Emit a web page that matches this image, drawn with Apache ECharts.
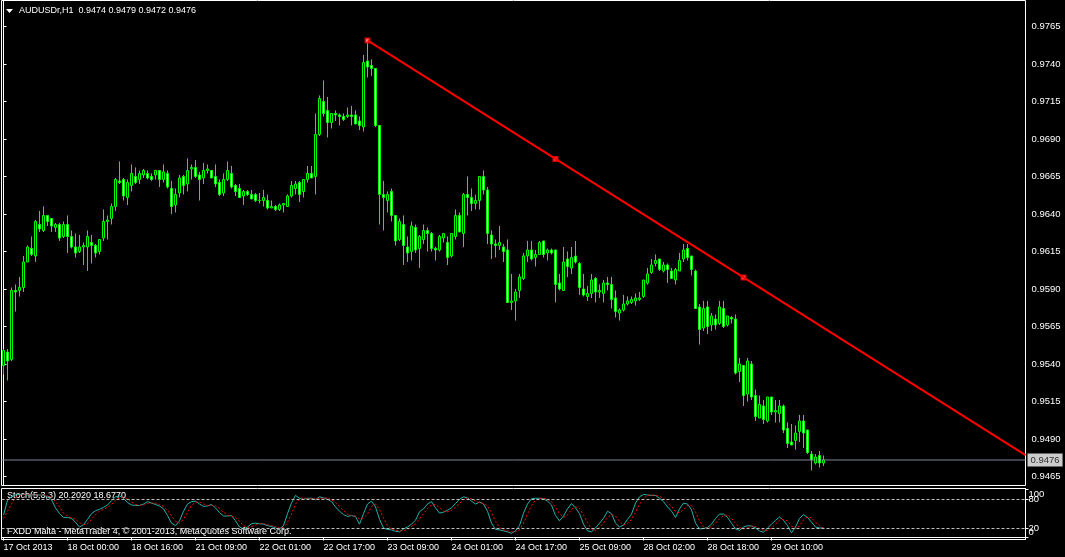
<!DOCTYPE html>
<html><head><meta charset="utf-8">
<script src="https://cdn.jsdelivr.net/npm/echarts@6/dist/echarts.min.js"></script>
<style>html,body{margin:0;padding:0;background:#000;}#c{width:1065px;height:557px;}</style>
</head><body><div id="c"></div>
<script>
// ---- data ----
const opens = [0.9539,0.9548,0.9543,0.9589,0.9589,0.9591,0.9608,0.9617,0.9612,0.9633,0.9629,0.9639,0.9637,0.9631,0.9633,0.9625,0.9633,0.9625,0.9618,0.9615,0.9618,0.9618,0.9621,0.9619,0.9615,0.9624,0.9635,0.9637,0.9645,0.9662,0.9663,0.9651,0.9659,0.9665,0.9663,0.9666,0.9667,0.9665,0.9666,0.9669,0.9663,0.9667,0.9657,0.9646,0.9654,0.9665,0.9660,0.9670,0.9671,0.9666,0.9664,0.9669,0.9669,0.9665,0.9661,0.9654,0.9663,0.9667,0.9659,0.9657,0.9652,0.9655,0.9653,0.9653,0.9649,0.9649,0.9649,0.9644,0.9645,0.9643,0.9646,0.9645,0.9652,0.9657,0.9661,0.9655,0.9663,0.9667,0.9665,0.9693,0.9715,0.9709,0.9701,0.9707,0.9706,0.9705,0.9705,0.9706,0.9706,0.9702,0.9698,0.9742,0.9739,0.9737,0.9699,0.9653,0.9649,0.9655,0.9639,0.9623,0.9633,0.9618,0.9615,0.9631,0.9617,0.9623,0.9629,0.9627,0.9617,0.9616,0.9624,0.9621,0.9612,0.9625,0.9639,0.9627,0.9653,0.9651,0.9647,0.9649,0.9665,0.9656,0.9626,0.9620,0.9619,0.9618,0.9616,0.9581,0.9582,0.9589,0.9597,0.9612,0.9616,0.9611,0.9613,0.9622,0.9614,0.9616,0.9616,0.9594,0.9589,0.9610,0.9604,0.9612,0.9607,0.9590,0.9585,0.9587,0.9597,0.9588,0.9587,0.9594,0.9593,0.9584,0.9574,0.9576,0.9580,0.9581,0.9582,0.9583,0.9585,0.9594,0.9601,0.9607,0.9610,0.9602,0.9606,0.9602,0.9596,0.9602,0.9610,0.9617,0.9612,0.9602,0.9578,0.9564,0.9578,0.9566,0.9570,0.9567,0.9577,0.9566,0.9571,0.9570,0.9535,0.9539,0.9520,0.9540,0.9519,0.9504,0.9512,0.9502,0.9518,0.9508,0.9507,0.9512,0.9497,0.9488,0.9489,0.9495,0.9502,0.9496,0.9480,0.9474,0.9479,0.9474];
const highs = [0.9550,0.9550,0.9591,0.9593,0.9598,0.9612,0.9619,0.9625,0.9636,0.9642,0.9645,0.9639,0.9637,0.9634,0.9634,0.9635,0.9639,0.9629,0.9627,0.9626,0.9621,0.9629,0.9626,0.9620,0.9623,0.9643,0.9639,0.9647,0.9664,0.9675,0.9664,0.9663,0.9673,0.9671,0.9669,0.9670,0.9669,0.9667,0.9669,0.9669,0.9673,0.9669,0.9662,0.9657,0.9666,0.9666,0.9677,0.9673,0.9676,0.9668,0.9674,0.9673,0.9669,0.9673,0.9663,0.9667,0.9675,0.9672,0.9660,0.9660,0.9656,0.9656,0.9656,0.9654,0.9654,0.9656,0.9653,0.9649,0.9646,0.9647,0.9647,0.9653,0.9662,0.9662,0.9662,0.9663,0.9672,0.9672,0.9707,0.9719,0.9729,0.9718,0.9707,0.9709,0.9707,0.9707,0.9711,0.9712,0.9709,0.9705,0.9746,0.9756,0.9743,0.9737,0.9699,0.9662,0.9655,0.9657,0.9639,0.9637,0.9639,0.9625,0.9635,0.9633,0.9626,0.9633,0.9631,0.9628,0.9618,0.9626,0.9627,0.9625,0.9627,0.9643,0.9641,0.9654,0.9665,0.9657,0.9653,0.9665,0.9669,0.9658,0.9629,0.9623,0.9632,0.9620,0.9623,0.9600,0.9590,0.9600,0.9614,0.9622,0.9622,0.9616,0.9622,0.9622,0.9617,0.9617,0.9616,0.9600,0.9618,0.9615,0.9618,0.9622,0.9608,0.9600,0.9592,0.9600,0.9598,0.9593,0.9596,0.9598,0.9598,0.9589,0.9577,0.9586,0.9585,0.9585,0.9587,0.9588,0.9596,0.9604,0.9610,0.9613,0.9610,0.9608,0.9607,0.9604,0.9604,0.9614,0.9620,0.9620,0.9612,0.9603,0.9580,0.9582,0.9582,0.9574,0.9573,0.9582,0.9582,0.9572,0.9572,0.9573,0.9544,0.9539,0.9544,0.9542,0.9523,0.9519,0.9516,0.9518,0.9518,0.9516,0.9516,0.9513,0.9501,0.9500,0.9499,0.9506,0.9506,0.9496,0.9482,0.9480,0.9482,0.9479];
const lows = [0.9533,0.9529,0.9542,0.9575,0.9585,0.9588,0.9608,0.9612,0.9608,0.9628,0.9628,0.9632,0.9628,0.9628,0.9622,0.9624,0.9614,0.9617,0.9611,0.9614,0.9606,0.9602,0.9607,0.9611,0.9613,0.9622,0.9623,0.9633,0.9642,0.9660,0.9649,0.9646,0.9655,0.9660,0.9660,0.9664,0.9663,0.9662,0.9663,0.9658,0.9661,0.9657,0.9640,0.9641,0.9651,0.9653,0.9655,0.9663,0.9664,0.9649,0.9660,0.9667,0.9664,0.9658,0.9652,0.9652,0.9662,0.9657,0.9652,0.9651,0.9646,0.9652,0.9650,0.9648,0.9647,0.9645,0.9643,0.9644,0.9642,0.9642,0.9641,0.9645,0.9651,0.9653,0.9648,0.9651,0.9661,0.9664,0.9653,0.9692,0.9705,0.9691,0.9697,0.9702,0.9699,0.9702,0.9704,0.9699,0.9700,0.9696,0.9695,0.9731,0.9732,0.9698,0.9633,0.9629,0.9641,0.9635,0.9619,0.9622,0.9606,0.9608,0.9609,0.9614,0.9604,0.9620,0.9615,0.9615,0.9609,0.9615,0.9621,0.9606,0.9611,0.9623,0.9628,0.9618,0.9639,0.9642,0.9643,0.9643,0.9653,0.9620,0.9610,0.9611,0.9616,0.9608,0.9581,0.9576,0.9569,0.9584,0.9596,0.9608,0.9609,0.9605,0.9613,0.9611,0.9609,0.9613,0.9581,0.9589,0.9589,0.9598,0.9600,0.9607,0.9586,0.9585,0.9582,0.9584,0.9581,0.9584,0.9581,0.9589,0.9577,0.9571,0.9569,0.9575,0.9579,0.9580,0.9579,0.9582,0.9584,0.9593,0.9600,0.9605,0.9602,0.9601,0.9594,0.9597,0.9593,0.9602,0.9608,0.9609,0.9599,0.9577,0.9553,0.9562,0.9560,0.9562,0.9563,0.9566,0.9564,0.9565,0.9567,0.9533,0.9528,0.9512,0.9515,0.9516,0.9502,0.9504,0.9500,0.9501,0.9506,0.9501,0.9501,0.9494,0.9484,0.9486,0.9483,0.9488,0.9484,0.9480,0.9469,0.9473,0.9471,0.9472];
const closes = [0.9549,0.9542,0.9589,0.9588,0.9591,0.9608,0.9618,0.9613,0.9635,0.9630,0.9639,0.9635,0.9632,0.9633,0.9624,0.9633,0.9625,0.9618,0.9614,0.9618,0.9619,0.9625,0.9619,0.9614,0.9623,0.9635,0.9636,0.9645,0.9663,0.9661,0.9652,0.9661,0.9667,0.9661,0.9667,0.9669,0.9664,0.9663,0.9669,0.9663,0.9668,0.9658,0.9645,0.9653,0.9664,0.9659,0.9669,0.9671,0.9665,0.9663,0.9669,0.9670,0.9664,0.9660,0.9653,0.9663,0.9669,0.9658,0.9655,0.9651,0.9655,0.9653,0.9650,0.9649,0.9649,0.9651,0.9644,0.9645,0.9643,0.9646,0.9647,0.9652,0.9659,0.9660,0.9653,0.9663,0.9667,0.9664,0.9693,0.9717,0.9707,0.9701,0.9707,0.9706,0.9705,0.9703,0.9706,0.9705,0.9700,0.9699,0.9741,0.9738,0.9737,0.9699,0.9653,0.9651,0.9653,0.9639,0.9622,0.9635,0.9619,0.9614,0.9632,0.9616,0.9625,0.9629,0.9627,0.9617,0.9616,0.9625,0.9627,0.9611,0.9627,0.9639,0.9628,0.9653,0.9651,0.9647,0.9649,0.9665,0.9656,0.9627,0.9620,0.9619,0.9621,0.9615,0.9581,0.9582,0.9588,0.9598,0.9612,0.9616,0.9610,0.9613,0.9621,0.9613,0.9616,0.9614,0.9593,0.9590,0.9608,0.9605,0.9611,0.9608,0.9591,0.9586,0.9587,0.9596,0.9588,0.9589,0.9594,0.9593,0.9583,0.9575,0.9576,0.9580,0.9582,0.9583,0.9584,0.9584,0.9596,0.9600,0.9606,0.9609,0.9603,0.9606,0.9603,0.9597,0.9603,0.9609,0.9616,0.9611,0.9603,0.9577,0.9563,0.9577,0.9565,0.9572,0.9566,0.9578,0.9565,0.9572,0.9570,0.9534,0.9540,0.9519,0.9542,0.9518,0.9505,0.9513,0.9503,0.9518,0.9508,0.9509,0.9512,0.9496,0.9487,0.9486,0.9494,0.9502,0.9494,0.9481,0.9476,0.9478,0.9474,0.9476];
const stochK = [47,78,85,89,90,90,89,89,89,89,88,85,79,62,50,42,42,40,32,22,27,38,50,56,59,63,68,77,85,87,82,73,68,67,67,70,75,72,69,66,60,46,30,25,35,55,70,75,76,70,65,66,69,62,52,45,45,46,35,22,18,22,29,30,29,28,25,23,20,18,25,50,72,88,82,80,82,82,79,85,83,80,75,64,55,48,44,46,44,28,50,70,76,64,38,20,17,16,13,12,18,22,28,36,54,60,70,75,62,51,53,57,62,71,80,85,83,76,70,74,70,55,30,17,16,14,12,9,14,25,51,70,81,82,82,81,76,68,46,35,45,60,71,62,50,28,14,12,20,30,40,55,50,30,22,26,38,49,72,85,90,89,88,88,82,75,64,55,42,60,72,70,58,30,18,19,21,28,40,49,49,42,30,18,15,22,25,24,20,14,11,20,28,36,43,36,25,10,22,40,48,42,32,22,20,20.2020];
const stochD = [40,55,70,84,88,90,90,89,89,89,89,87,84,75,64,51,45,41,38,31,27,29,38,48,55,59,63,69,77,83,85,81,74,69,67,68,71,72,72,69,65,57,45,34,30,38,53,67,74,74,70,67,67,66,61,53,47,45,42,34,25,21,23,26,29,29,27,25,23,20,21,31,49,70,81,83,81,81,81,82,82,83,79,73,65,56,49,46,45,39,41,49,65,70,59,41,25,18,15,14,14,17,23,29,39,50,61,68,69,63,55,54,57,63,71,79,83,81,76,73,71,66,52,34,21,16,14,12,12,16,30,49,67,78,82,82,80,75,63,50,42,47,59,64,61,47,31,18,15,21,30,42,48,45,34,26,29,38,53,69,82,88,89,88,86,82,74,65,54,52,58,67,67,53,35,22,19,23,30,39,46,47,40,30,21,18,21,24,23,19,15,15,20,28,36,38,35,24,19,24,37,43,41,32,25,18.6770];
const xTickLabels = ['17 Oct 2013','18 Oct 00:00','18 Oct 16:00','21 Oct 09:00','22 Oct 01:00','22 Oct 17:00','23 Oct 09:00','24 Oct 01:00','24 Oct 17:00','25 Oct 09:00','28 Oct 02:00','28 Oct 18:00','29 Oct 10:00'];
const priceTicks = [0.9465,0.9490,0.9515,0.9540,0.9565,0.9590,0.9615,0.9640,0.9665,0.9690,0.9715,0.9740,0.9765];
const stochTicks = [0,20,80,100];
const stochLevels = [20,80];
const stochMaxLabel = [100];
const stochMinLabel = [0];
const trendAnchors = [[91,0.97557],[185,0.95977]];
const lastPrice = 0.9476;
const headerText = 'AUDUSDr,H1  0.9474 0.9479 0.9472 0.9476';
const stochTitle = 'Stoch(5,3,3) 20.2020 18.6770';
const copyright = 'FXDD Malta - MetaTrader 4, \u00a9 2001-2013, MetaQuotes Software Corp.';

// ---- layout ----
const totalSlots = 256;      // bar slots incl. empty space to the right
const labelStep = 16;
const FONT = '"Liberation Sans", Arial, sans-serif';
const cats = Array.from({length: totalSlots}, (_, i) => String(i));
const candles = opens.map((o, i) => [o, closes[i], lows[i], highs[i]]);
const xStart = -0.5, xEnd = totalSlots - 0.5;
const slope = (trendAnchors[1][1] - trendAnchors[0][1]) / (trendAnchors[1][0] - trendAnchors[0][0]);
const trendData = [trendAnchors[0], [xEnd, trendAnchors[0][1] + slope * (xEnd - trendAnchors[0][0])]];
const midX = (trendAnchors[0][0] + trendAnchors[1][0]) / 2;
const markerData = [trendAnchors[0], [midX, (trendAnchors[0][1] + trendAnchors[1][1]) / 2], trendAnchors[1]];
const isLabel = (idx) => idx % labelStep === 0 && idx / labelStep < xTickLabels.length;
const stochMin = -4, stochMax = 102.4;

function stochAxis(values, vAlign, withLine) {
  return {type: 'value', gridIndex: 1, position: 'right', min: stochMin, max: stochMax,
    axisLine: {show: withLine, lineStyle: {color: '#fff'}},
    axisTick: {show: withLine, customValues: stochTicks, length: 3, lineStyle: {color: '#fff'}},
    axisLabel: {show: true, customValues: values, color: '#fff', fontSize: 9.5, fontFamily: FONT, margin: 3,
      verticalAlign: vAlign, formatter: (v) => String(Math.round(v))},
    splitLine: {show: false}};
}

const chart = echarts.init(document.getElementById('c'), null, {renderer: 'canvas'});
chart.setOption({
  backgroundColor: '#000',
  animation: false,
  grid: [
    {left: 1.5, right: 39.5, top: 0.5, height: 485, show: true, borderColor: '#fff', borderWidth: 1, backgroundColor: 'transparent'},
    {left: 1.5, right: 39.5, top: 488.5, height: 51, show: true, borderColor: '#fff', borderWidth: 1, backgroundColor: 'transparent'}
  ],
  xAxis: [
    {type: 'category', gridIndex: 0, data: cats, boundaryGap: true, show: false},
    {type: 'category', gridIndex: 1, data: cats, boundaryGap: true,
      axisLine: {show: true, lineStyle: {color: '#fff'}},
      axisTick: {show: true, alignWithLabel: true, interval: isLabel, length: 3, lineStyle: {color: '#fff'}},
      axisLabel: {show: true, interval: isLabel, align: 'left', color: '#fff', fontSize: 9, fontFamily: FONT, margin: 4,
        formatter: (v) => xTickLabels[Number(v) / labelStep] || ''},
      splitLine: {show: false}},
    {type: 'value', gridIndex: 0, min: xStart, max: xEnd, show: false}
  ],
  yAxis: [
    {type: 'value', gridIndex: 0, position: 'right', min: 0.9459, max: 0.97823,
      axisLine: {show: true, lineStyle: {color: '#fff'}},
      axisTick: {show: true, customValues: priceTicks, length: 3, lineStyle: {color: '#fff'}},
      axisLabel: {show: true, customValues: priceTicks, color: '#fff', fontSize: 9.5, fontFamily: FONT, margin: 6,
        formatter: (v) => v.toFixed(4)},
      splitLine: {show: false}},
    stochAxis(stochLevels, 'middle', true),
    stochAxis(stochMaxLabel, 'top', false),
    stochAxis(stochMinLabel, 'bottom', false)
  ],
  series: [
    {type: 'candlestick', xAxisIndex: 0, yAxisIndex: 0, data: candles, barWidth: 2,
      itemStyle: {color: '#000', color0: '#fff', borderColor: '#00ff00', borderColor0: '#00ff00', borderColorDoji: '#00ff00', borderWidth: 1},
      silent: true},
    {type: 'line', xAxisIndex: 2, yAxisIndex: 0, data: [[xStart, lastPrice], [xEnd, lastPrice]], symbol: 'none', silent: true,
      lineStyle: {color: '#778899', width: 1}},
    {type: 'scatter', xAxisIndex: 2, yAxisIndex: 0, data: [[xEnd, lastPrice]], symbolSize: 0, silent: true, clip: false,
      label: {show: true, position: 'right', distance: 2, formatter: lastPrice.toFixed(4), backgroundColor: '#fff', color: '#000',
        fontSize: 9.5, fontFamily: FONT, padding: [2, 3, 1, 3]}},
    {type: 'line', xAxisIndex: 2, yAxisIndex: 0, data: trendData, symbol: 'none', silent: true,
      lineStyle: {color: '#ff0000', width: 2}},
    {type: 'scatter', xAxisIndex: 2, yAxisIndex: 0, data: markerData, symbol: 'rect', symbolSize: 4, silent: true,
      itemStyle: {color: '#fff', borderColor: '#ff0000', borderWidth: 2}},
    {type: 'line', xAxisIndex: 1, yAxisIndex: 1, data: stochK, symbol: 'none', silent: true,
      lineStyle: {color: '#20b2aa', width: 1},
      markLine: {silent: true, symbol: ['none', 'none'], animation: false, label: {show: false},
        lineStyle: {color: '#c0c0c0', type: [3, 2], width: 1},
        data: stochLevels.map(v => ({yAxis: v}))}},
    {type: 'line', xAxisIndex: 1, yAxisIndex: 1, data: stochD, symbol: 'none', silent: true,
      lineStyle: {color: '#ff0000', width: 1, type: [2, 2]}}
  ],
  graphic: [
    {type: 'polygon', shape: {points: [[6, 9], [13, 9], [9.5, 13]]}, style: {fill: '#fff'}},
    {type: 'text', x: 19, y: 6, style: {text: headerText, fill: '#fff', font: '9px ' + FONT}},
    {type: 'text', x: 7, y: 491, style: {text: stochTitle, fill: '#fff', font: '9px ' + FONT}},
    {type: 'text', x: 7, y: 527, style: {text: copyright, fill: '#fff', font: '9px ' + FONT}}
  ]
});
</script></body></html>
